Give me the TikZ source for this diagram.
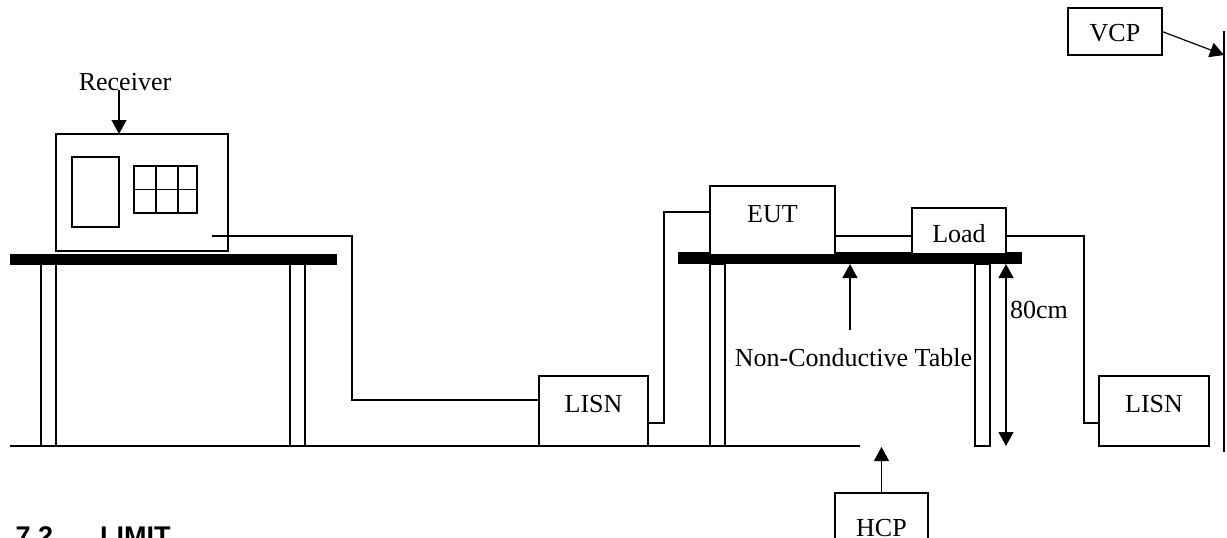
\documentclass[tikz,border=0pt]{standalone}
\usepackage{fontspec}
\setmainfont{Liberation Serif}
\newfontfamily\headfont{Liberation Sans}
\usetikzlibrary{arrows.meta}

\begin{document}
\begin{tikzpicture} [x=1pt,y=-1pt,line width=1.2pt,
    box/.style= {draw,fill=white,inner sep=0,outer sep=0,anchor=north west,font=\fontsize{26}{30}\selectfont},
    tabletop/.style= {fill=black,inner sep=0,outer sep=0,anchor=north west},
    leg/.style= {draw,fill=white,inner sep=0,outer sep=0,anchor=north west,minimum width=15,minimum height=182},
    arr/.style= {-{Triangle[length=14pt,width=15pt]}},
    txt/.style= {inner sep=0,font=\fontsize{26}{30}\selectfont}]
    \useasboundingbox (0,0) rectangle (1227,538);
    \clip (0,0) rectangle (1227,538);

    % floor and wall
    \coordinate (floorL) at (10,446);
    \coordinate (floorR) at (860,446);
    \draw (floorL) -- (floorR);
    \coordinate (wallT) at (1224,31);
    \coordinate (wallB) at (1224,452);
    \draw (wallT) -- (wallB);

    % tables
    \foreach \x in {41,290,710,975}{%
        \node[leg] (leg\x) at (\x,264) {};}
    \node[tabletop,minimum width=327,minimum height=11] (tableA) at (10,254) {};
    \node[tabletop,minimum width=344,minimum height=12] (tableB) at (678,252) {};

    % receiver
    \node[box,minimum width=172,minimum height=117] (receiver) at (56,134) {};
    \node[box,minimum width=47,minimum height=70] (screen) at (72,157) {};
    \node[box,minimum width=63,minimum height=47] (keys) at (134,166) {};
    \foreach \x in {156,178}{%
        \draw (\x,0 |- keys.north) -- (\x,0 |- keys.south);}
    \draw (keys.west) -- (keys.east);
    \node[txt] (rxlabel) at (125,82) {Receiver};
    \coordinate (rxtail) at (119,90);
    \draw[arr] (rxtail) -- (rxtail |- receiver.north);

    % boxes
    \node[box,minimum width=109,minimum height=70,text depth=14] (lisnA) at (539,376) {LISN};
    \node[box,minimum width=110,minimum height=70,text depth=14] (lisnB) at (1099,376) {LISN};
    \node[box,minimum width=125,minimum height=69,text depth=14] (eut) at (710,186) {EUT};
    \node[box,minimum width=94,minimum height=46,text height=24] (load) at (912,208) {Load};
    \node[box,minimum width=94,minimum height=47,text height=21] (vcp) at (1068,8) {VCP};
    \node[box,minimum width=93,minimum height=70,text depth=1] (hcp) at (835,493) {HCP};

    % wires
    \coordinate (rxout) at (212,236);
    \draw (rxout) -- ++(140,0) |- ([yshift=11]lisnA.west);
    \draw ([yshift=-12]lisnA.east) -- ++(16,0) |- ([yshift=8.5]eut.west);
    \draw ([yshift=-15.5]eut.east) -- ([yshift=-5]load.west);
    \draw ([yshift=-5]load.east) -- ++(78,0) |- ([yshift=-12]lisnB.west);

    % labels and arrows
    \node[txt] (tablelabel) at (853.5,358) {Non-Conductive Table};
    \coordinate (tabletail) at (850,330);
    \draw[arr] (tabletail) -- (tabletail |- tableB.south);
    \coordinate (heightB) at (1006,446);
    \draw[{Triangle[length=14pt,width=15pt]}-{Triangle[length=14pt,width=15pt]}] (heightB |- tableB.south) -- (heightB);
    \node[txt] (heightlabel) at (1039,310) {80cm};
    \coordinate (wallhit) at (wallT |- 0,55);
    \draw[arr] (vcp.east) -- (wallhit);
    \coordinate (floorhit) at (hcp.north |- 0,447);
    \draw[arr] (hcp.north) -- (floorhit);

    \node[inner sep=0,anchor=base west,font=\headfont\bfseries\fontsize{27}{30}\selectfont] (heading) at (15,545) {7.2\hspace{47pt}LIMIT};
\end{tikzpicture}
\end{document}
